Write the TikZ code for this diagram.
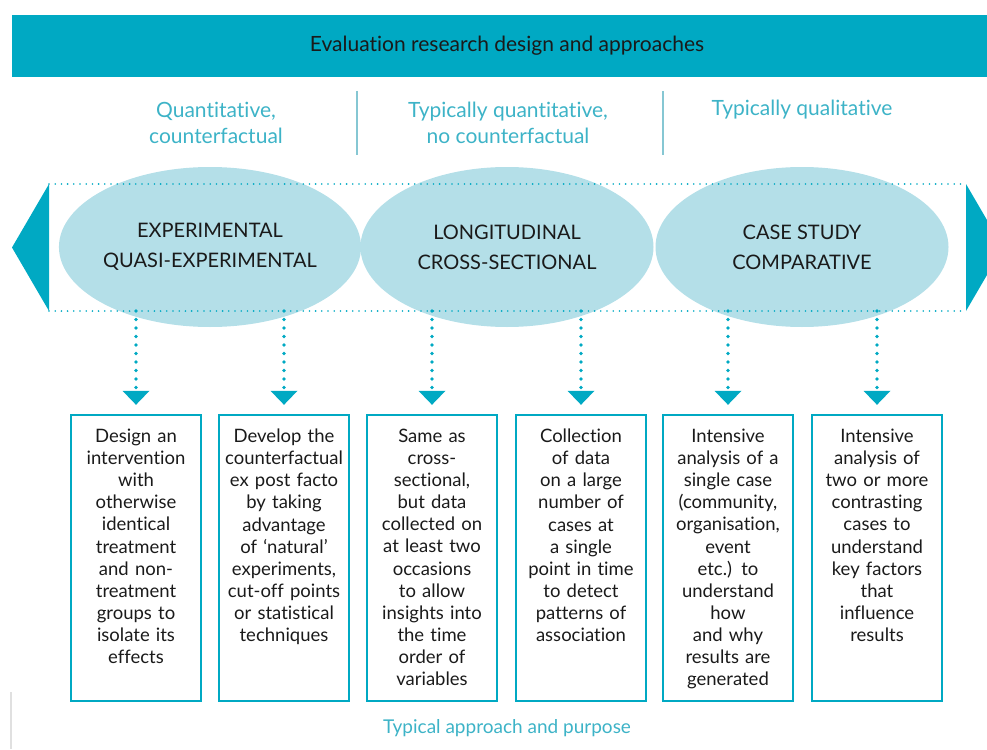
\documentclass[tikz,border=0pt]{standalone}
\usepackage{fontspec}
\setmainfont{Lato}[Ligatures=NoCommon]
\usepackage{tikz}
\usepackage{xcolor}
\usetikzlibrary{shapes.geometric,arrows.meta,positioning}
\definecolor{tealA}{HTML}{00A9C3}
\definecolor{tealB}{HTML}{3DB3C7}
\definecolor{paleB}{HTML}{B4DFE8}
\definecolor{sepC}{HTML}{86C7D3}
\definecolor{ink}{HTML}{1A1A1A}

\begin{document}
\begin{tikzpicture}[x=1pt, y=-1pt,
  oval/.style={ellipse, fill=paleB, minimum width=293pt, minimum height=160pt, inner sep=0pt, align=center, text=ink, font=\fontsize{20}{30}\selectfont},
  box/.style={draw=tealA, line width=2.4pt, minimum width=130pt, minimum height=286pt, inner sep=0pt},
  boxtext/.style={text width=128pt, align=center, inner sep=0pt, text=ink, font=\fontsize{18.5}{22.1}\selectfont},
  head/.style={align=center, text=tealB, font=\fontsize{21}{26}\selectfont},
  band/.style={tealA, line width=1.8pt, line cap=round, dash pattern=on 0pt off 6.2pt},
  dotarrow/.style={tealA, line width=3.6pt, line cap=round, dash pattern=on 0pt off 8.5pt, -{Triangle[width=27pt, length=14pt, line width=0pt]}, shorten >=9pt}]
\clip (0,0) rectangle (987,749);

\node[fill=tealA, anchor=north west, minimum width=980pt, minimum height=62pt, inner sep=0pt] (banner) at (12,15) {};
\node[text=ink, font=\fontsize{21}{25}\selectfont] (title) at (507,46) {Evaluation research design and approaches};

\node[head] (h1) at (216,123) {Quantitative,\\counterfactual};
\node[head] (h2) at (508,123) {Typically quantitative,\\no counterfactual};
\node[head] (h3) at (802,110) {Typically qualitative};
\draw[sepC, line width=2pt] (357,91) -- (357,155);
\draw[sepC, line width=2pt] (663,91) -- (663,155);

\node[oval] (e1) at (210,247) {EXPERIMENTAL\\QUASI-EXPERIMENTAL};
\node[oval] (e2) at (507,247) {LONGITUDINAL\\CROSS-SECTIONAL};
\node[oval] (e3) at (802,247) {CASE STUDY\\COMPARATIVE};

\coordinate (bandT) at (49,184);
\coordinate (bandB) at (49,311);
\draw[band] (bandT) -- (966,184);
\draw[band] (bandB) -- (966,311);
\fill[tealA] (bandT) -- (bandB) -- (12,247.5) -- cycle;
\fill[tealA] (966,184) -- (966,311) -- (1003,247.5) -- cycle;

\node[box] (b1) at (136,558) {};
\node[box] (b2) at (284,558) {};
\node[box] (b3) at (432,558) {};
\node[box] (b4) at (581,558) {};
\node[box] (b5) at (728,558) {};
\node[box] (b6) at (877,558) {};

\node[boxtext, below=15pt of b1.north] (t1) {Design an\\intervention\\with\\otherwise\\identical\\treatment\\and non-\\treatment\\groups to\\isolate its\\effects};
\node[boxtext, below=15pt of b2.north] (t2) {Develop the\\counterfactual\\ex post facto\\by taking\\advantage\\of ‘natural’\\experiments,\\cut-off points\\or statistical\\techniques};
\node[boxtext, below=15pt of b3.north] (t3) {Same as\\cross-\\sectional,\\but data\\collected on\\at least two\\occasions\\to allow\\insights into\\the time\\order of\\variables};
\node[boxtext, below=15pt of b4.north] (t4) {Collection\\of data\\on a large\\number of\\cases at\\a single\\point in time\\to detect\\patterns of\\association};
\node[boxtext, below=15pt of b5.north] (t5) {Intensive\\analysis of a\\single case\\(community,\\organisation,\\event\\etc.) to\\understand\\how\\and why\\results are\\generated};
\node[boxtext, below=15pt of b6.north] (t6) {Intensive\\analysis of\\two or more\\contrasting\\cases to\\understand\\key factors\\that\\influence\\results};

\draw[dotarrow] (b1.north |- bandB) -- (b1.north);
\draw[dotarrow] (b2.north |- bandB) -- (b2.north);
\draw[dotarrow] (b3.north |- bandB) -- (b3.north);
\draw[dotarrow] (b4.north |- bandB) -- (b4.north);
\draw[dotarrow] (b5.north |- bandB) -- (b5.north);
\draw[dotarrow] (b6.north |- bandB) -- (b6.north);

\node[text=tealB, font=\fontsize{19}{22}\selectfont] (foot) at (507,728) {Typical approach and purpose};
\draw[black!12, line width=1.5pt] (11,692) -- (11,749);
\end{tikzpicture}
\end{document}
